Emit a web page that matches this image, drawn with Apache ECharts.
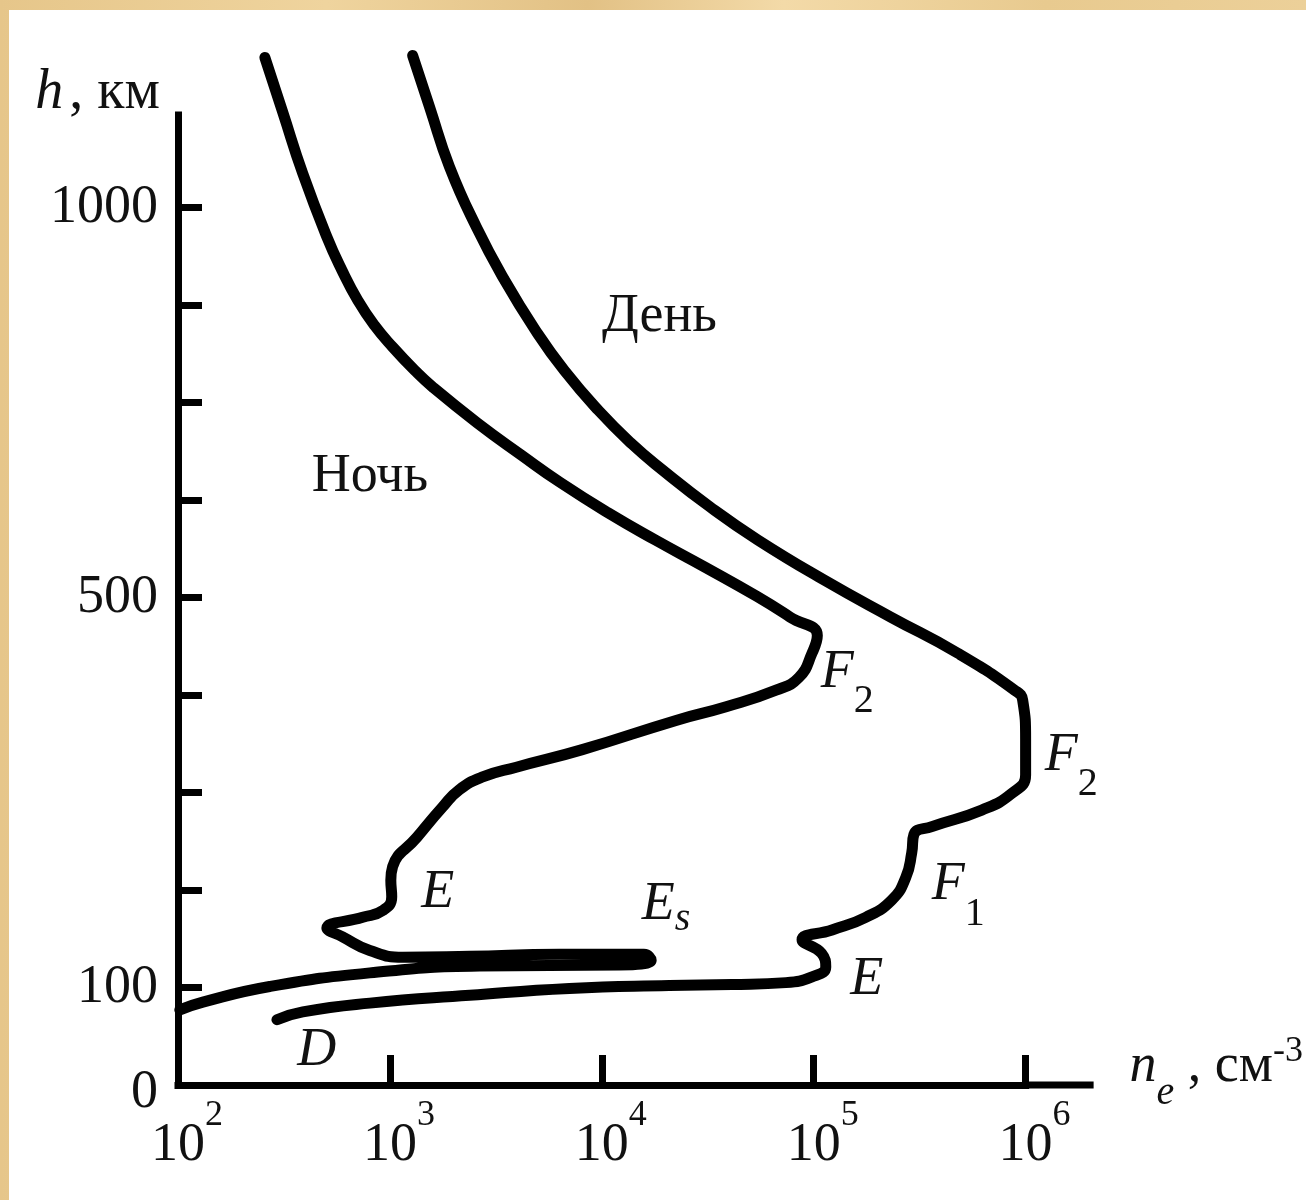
<!DOCTYPE html>
<html>
<head>
<meta charset="utf-8">
<title>Профиль электронной концентрации ионосферы</title>
<script src="https://cdn.jsdelivr.net/npm/echarts@6.0.0/dist/echarts.min.js"></script>
<style>
	html, body { margin: 0; padding: 0; width: 1306px; height: 1200px; overflow: hidden;
		background: linear-gradient(90deg, #e6c68a 0%, #efd49e 25%, #e2c185 45%, #f3daa8 60%, #e8ca8f 80%, #ecd099 100%); }
	#chart { position: absolute; left: 9px; top: 10px; width: 1297px; height: 1190px; background: #fff; }
</style>
</head>
<body>
<div id="chart"></div>
<script>
	// день: n_e (см^-3) и высота h (км) по ходу кривой сверху вниз
	var dayNe = [1280, 1540, 1910, 2560, 3470, 4870, 6650, 9640, 13800, 19300,
		32400, 54600, 112000, 231000, 478000, 887000, 968000, 1000000, 1000000, 859000,
		621000, 361000, 297000, 290000, 272000, 234000, 176000, 122000, 88100, 109000,
		114000, 98200, 73900, 41200, 20800, 7030, 2380, 804, 388, 293];
	var dayH = [1056, 1003, 942, 880, 826, 774, 733, 692, 658, 631,
		593, 559, 518, 480, 443, 405, 395, 354, 318, 299,
		282, 265, 257, 238, 213, 190, 172, 159, 149, 135,
		121, 111, 105, 103, 102, 99, 92, 84, 75, 67];

	// ночь
	var nightNe = [257, 313, 388, 504, 593, 705, 847, 1030, 1310, 1590,
		2590, 4180, 6370, 10700, 17900, 30800, 54100, 77300, 104000, 98200,
		85100, 66400, 38600, 22400, 8090, 3950, 2740, 2130, 1770, 1340,
		1030, 1010, 1020, 925, 744, 504, 598, 804, 1150, 2380,
		6310, 15800, 17100, 12100, 2650, 804, 271, 131, 102];
	var nightH = [1054, 997, 935, 870, 836, 805, 779, 757, 733, 716,
		679, 646, 618, 587, 559, 531, 501, 480, 461, 443,
		418, 405, 388, 374, 344, 326, 316, 303, 285, 254,
		224, 210, 193, 179, 172, 161, 152, 138, 131, 132,
		134, 134, 128, 123, 122, 115, 101, 85, 77];

	// шкала высот
	var hTickValues = [100, 200, 300, 400, 500, 600, 700, 800, 900];
	var hLabelValues = [0, 100, 500, 900];
	var hLabelTexts = ['0', '100', '500', '1000'];

	// подписи слоёв
	var noteNe = [18700, 804, 144000, 1640000, 481000, 20100, 1680, 178000, 452];
	var noteH = [788, 624, 423, 338, 205, 185, 197, 108, 35];
	var noteMain = ['День', 'Ночь', 'F', 'F', 'F', 'E', 'E', 'E', 'D'];
	var noteSub = ['', '', '2', '2', '1', 's', '', '', ''];

	var serif = 'Liberation Serif';
	var ink = '#111';

	function zip(xs, ys) {
		var out = [];
		for (var i = 0; i < xs.length; i++) {
			out.push([xs[i], ys[i]]);
		}
		return out;
	}

	var notes = [];
	for (var i = 0; i < noteMain.length; i++) {
		notes.push([noteNe[i], noteH[i], noteMain[i], noteSub[i]]);
	}

	function txt(size, italic, pad) {
		var s = { fontFamily: serif, fontSize: size, lineHeight: size, color: ink, verticalAlign: 'middle' };
		if (italic) s.fontStyle = 'italic';
		if (pad) s.padding = pad;
		return s;
	}

	var curveStyle = { color: '#000', width: 11, cap: 'round', join: 'round' };

	var chart = echarts.init(document.getElementById('chart'));
	chart.setOption({
		animation: false,
		grid: { left: 169, right: 279, top: 105, bottom: 115 },
		xAxis: {
			type: 'log',
			logBase: 10,
			min: 100,
			max: 1000000,
			name: '{i|n}{sub|e}{t| , см}{sup|-3}',
			nameLocation: 'end',
			nameGap: 104,
			nameTextStyle: {
				padding: [0, 0, 36, 0],
				rich: {
					i: txt(54, true),
					sub: txt(40, true, [53, 0, 0, 0]),
					t: txt(54, false),
					sup: txt(36, false, [0, 0, 30, 0])
				}
			},
			axisLine: {
				lineStyle: { color: '#000', width: 7, cap: 'square' },
				symbol: ['none', 'rect'],
				symbolSize: [7, 68],
				symbolOffset: [0, 34]
			},
			axisTick: { inside: true, length: 30, lineStyle: { color: '#000', width: 7 } },
			axisLabel: {
				margin: 34,
				formatter: function (v) {
					return '{b|10}{e|' + Math.round(Math.log10(v)) + '}';
				},
				rich: {
					b: txt(54, false, [0, 0, 0, 18]),
					e: txt(36, false, [0, 0, 60, 0])
				}
			},
			splitLine: { show: false }
		},
		yAxis: {
			type: 'value',
			min: 0,
			max: 995,
			name: '{i|h}{t|, км}',
			nameLocation: 'end',
			nameGap: 22,
			nameTextStyle: {
				align: 'right',
				verticalAlign: 'middle',
				padding: [0, 18, 0, 0],
				rich: {
					i: txt(56, true),
					t: txt(56, false, [0, 0, 0, 6])
				}
			},
			axisLine: { lineStyle: { color: '#000', width: 7, cap: 'square' } },
			axisTick: { inside: true, length: 24, customValues: hTickValues, lineStyle: { color: '#000', width: 7 } },
			axisLabel: {
				customValues: hLabelValues,
				margin: 20,
				color: ink,
				fontFamily: serif,
				fontSize: 54,
				formatter: function (v) {
					var k = hLabelValues.indexOf(v);
					var t = k < 0 ? '' : hLabelTexts[k];
					return v === 0 ? '{z|' + t + '}' : t;
				},
				rich: { z: txt(54, false, [16, 0, 0, 0]) }
			},
			splitLine: { show: false }
		},
		series: [
			{
				name: 'День',
				type: 'line',
				data: zip(dayNe, dayH),
				showSymbol: false,
				smooth: 0.5,
				clip: false,
				silent: true,
				lineStyle: curveStyle
			},
			{
				name: 'Ночь',
				type: 'line',
				data: zip(nightNe, nightH),
				showSymbol: false,
				smooth: 0.5,
				clip: false,
				silent: true,
				lineStyle: curveStyle
			},
			{
				name: 'подписи',
				type: 'scatter',
				data: notes,
				symbolSize: 1,
				clip: false,
				silent: true,
				z: 5,
				itemStyle: { color: 'rgba(0,0,0,0)', opacity: 1 },
				label: {
					show: true,
					position: 'inside',
					color: ink,
					opacity: 1,
					textBorderWidth: 0,
					formatter: function (p) {
						var main = p.data[2], sub = p.data[3];
						var s = '{' + (/^[A-Z]$/.test(main) ? 'it' : 'rm') + '|' + main + '}';
						if (sub) s += '{' + (sub === 's' ? 'subs' : 'sub') + '|' + sub + '}';
						return s;
					},
					rich: {
						it: txt(54, true),
						rm: txt(54, false),
						sub: txt(40, false, [58, 0, 0, 0]),
						subs: txt(40, true, [30, 0, 0, 0])
					}
				}
			}
		]
	});
</script>
</body>
</html>
